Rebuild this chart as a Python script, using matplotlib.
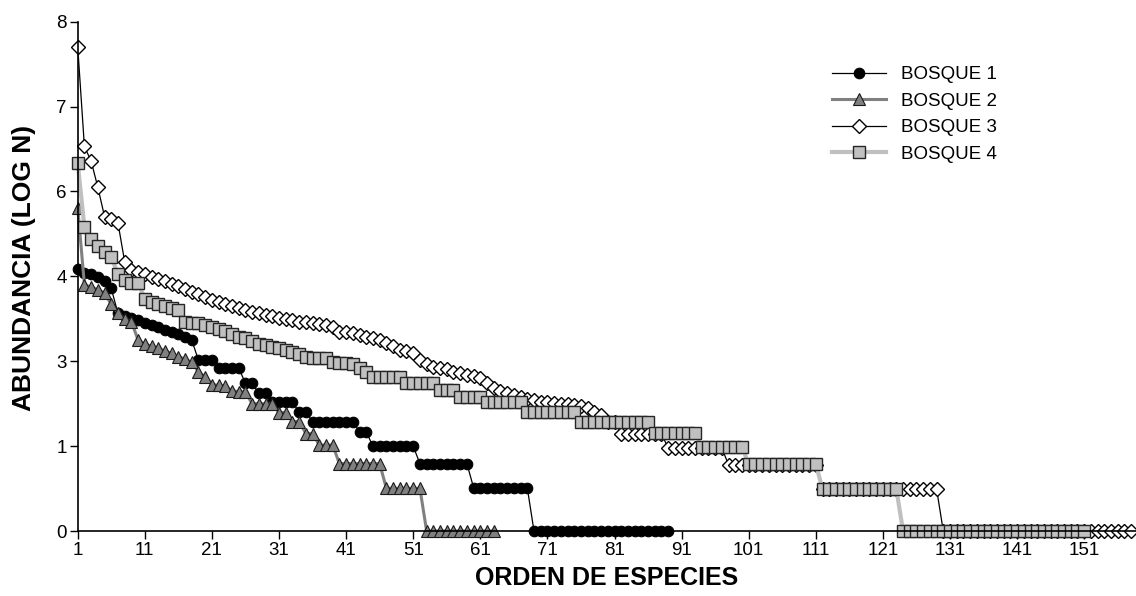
import matplotlib
matplotlib.use('Agg')
import matplotlib.pyplot as plt
import numpy as np

# abundance (log N) of each species, ordered by rank, one list per forest plot
bosque_1 = [4.11, 4.06, 4.03, 3.99, 3.93, 3.81, 3.42, 3.38, 3.35, 3.31,
            3.27, 3.24, 3.20, 3.16, 3.13, 3.09, 3.05, 3.00] + \
           [2.68] * 3 + [2.56] * 4 + [2.32] * 2 + [2.16] * 2 + [2.02] * 4 + \
           [1.87] * 2 + [1.72] * 7 + [1.56] * 2 + [1.33] * 7 + [1.06] * 8 + \
           [0.68] * 9 + [0.0] * 21

bosque_2 = [5.08, 3.87, 3.83, 3.79, 3.74, 3.56, 3.43, 3.33, 3.29, 3.00,
            2.94, 2.90, 2.87, 2.83, 2.79, 2.74, 2.70, 2.65, 2.50, 2.42,
            2.30, 2.29, 2.28, 2.20, 2.19, 2.18] + \
           [2.00] * 4 + [1.86] * 2 + [1.72] * 2 + [1.53] * 2 + [1.35] * 3 + \
           [1.06] * 7 + [0.67] * 6 + [0.0] * 11

bosque_3 = [7.61, 6.04, 5.81, 5.40, 4.94, 4.90, 4.84, 4.23, 4.10, 4.07,
            4.03, 3.99, 3.96, 3.92, 3.88, 3.85, 3.80, 3.76, 3.72, 3.68,
            3.63, 3.60, 3.57, 3.54, 3.50, 3.47, 3.44, 3.42, 3.40, 3.37,
            3.35, 3.33, 3.31, 3.29, 3.28, 3.26, 3.25, 3.24, 3.20, 3.13,
            3.12, 3.11, 3.08, 3.05, 3.03, 3.00, 2.95, 2.90, 2.85, 2.82,
            2.79, 2.69, 2.62, 2.58, 2.56, 2.54, 2.50, 2.48, 2.45, 2.43,
            2.40, 2.33, 2.25, 2.20, 2.17, 2.14, 2.11, 2.08, 2.05, 2.03,
            2.02, 2.01, 2.00, 2.00, 1.98, 1.96, 1.93, 1.87, 1.82] + \
           [1.72] * 2 + [1.53] * 7 + [1.30] * 9 + [1.04] * 14 + \
           [0.66] * 18 + [0.0] * 29

bosque_4 = [5.78, 4.77, 4.58, 4.47, 4.39, 4.31, 4.03, 3.94, 3.89, 3.89,
            3.65, 3.60, 3.57, 3.54, 3.50, 3.47, 3.29, 3.27, 3.26, 3.24,
            3.21, 3.18, 3.14, 3.10, 3.05, 3.03, 2.98, 2.94, 2.92, 2.89,
            2.87, 2.84, 2.81, 2.78, 2.74, 2.72, 2.71, 2.71, 2.66, 2.64,
            2.64, 2.62, 2.56, 2.50] + \
           [2.42] * 5 + [2.32] * 5 + [2.21] * 3 + [2.11] * 4 + [2.02] * 6 + \
           [1.87] * 8 + [1.72] * 11 + [1.54] * 7 + [1.32] * 7 + [1.05] * 11 + \
           [0.66] * 12 + [0.0] * 28

x_ticks = list(range(1, 152, 10))
y_tick_labels = ['0', '1', '3', '4', '6', '7', '8']

plt.rcParams['font.family'] = ['Liberation Sans', 'DejaVu Sans']

W, H = 1136, 596
fig = plt.figure(figsize=(W / 100, H / 100), dpi=100)
ax = fig.add_axes([77.7 / W, (H - 531) / H, (W - 77.7) / W, (531 - 21.7) / H])


def rank(values):
    return np.arange(1, len(values) + 1)


ax.plot(rank(bosque_1), bosque_1, color='black', lw=0.9, marker='o', ms=7.6,
        mfc='black', mec='black', mew=0.8, label='BOSQUE 1', clip_on=False)
ax.plot(rank(bosque_2), bosque_2, color='#808080', lw=2.2, marker='^', ms=8.4,
        mfc='#808080', mec='#1a1a1a', mew=0.8, label='BOSQUE 2', clip_on=False)
ax.plot(rank(bosque_3), bosque_3, color='black', lw=0.9, marker='D', ms=6.8,
        mfc='white', mec='black', mew=1.0, label='BOSQUE 3', clip_on=False)
ax.plot(rank(bosque_4), bosque_4, color='#c0c0c0', lw=3.0, marker='s', ms=8.4,
        mfc='#c0c0c0', mec='#262626', mew=1.0, label='BOSQUE 4', clip_on=False)

ax.set_xlim(1, 1 + (W - 77.7) / 6.71)
ax.set_ylim(0, 8)
ax.set_xticks(x_ticks)
ax.set_xticklabels([str(t) for t in x_ticks])
ax.set_yticks(np.linspace(0, 8, 7))
ax.set_yticklabels(y_tick_labels)

for side in ['top', 'right']:
    ax.spines[side].set_visible(False)
for side in ['left', 'bottom']:
    ax.spines[side].set_linewidth(1.2)
ax.tick_params(direction='out', length=6, width=1.0, labelsize=13.5, pad=2)

ax.set_xlabel('ORDEN DE ESPECIES', fontsize=18, fontweight='bold', labelpad=5)
ax.set_ylabel('ABUNDANCIA (LOG N)', fontsize=19, fontweight='bold')
ax.yaxis.set_label_coords(-0.039, 0.517)

ax.legend(loc='upper left', bbox_to_anchor=(831.7 / W, (H - 66) / H),
          bbox_transform=fig.transFigure, frameon=False, numpoints=1,
          handlelength=2.9, handletextpad=0.8, labelspacing=0.5,
          fontsize=13.5, borderpad=0, borderaxespad=0)

fig.savefig('out.png', dpi=100)
